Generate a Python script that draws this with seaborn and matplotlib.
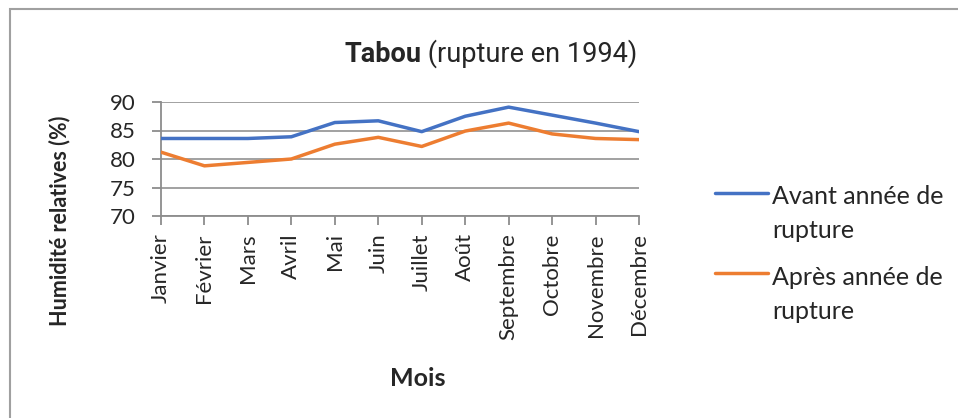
import matplotlib
matplotlib.use('Agg')
import matplotlib.pyplot as plt
from matplotlib.legend_handler import HandlerLine2D
from matplotlib.patches import Rectangle
import seaborn as sns
import pandas as pd

# Données
mois = ['Janvier', 'Février', 'Mars', 'Avril', 'Mai', 'Juin', 'Juillet',
        'Août', 'Septembre', 'Octobre', 'Novembre', 'Décembre']
avant = [83.6, 83.6, 83.6, 83.9, 86.4, 86.7, 84.8, 87.5, 89.1, 87.7, 86.3, 84.8]
apres = [81.2, 78.8, 79.4, 80.0, 82.6, 83.8, 82.2, 84.9, 86.3, 84.4, 83.6, 83.4]
series = ['Avant année de\nrupture', 'Après année de\nrupture']
couleurs = ['#4472C4', '#ED7D31']

df = pd.DataFrame({
    'Mois': mois * 2,
    'pos': list(range(len(mois))) * 2,
    'Humidite': avant + apres,
    'Serie': [series[0]] * len(mois) + [series[1]] * len(mois),
})

sns.set_style('white')
plt.rcParams['font.family'] = ['Lato', 'DejaVu Sans']

fig = plt.figure(figsize=(9.58, 4.18), dpi=100)
ax = fig.add_axes([161 / 958, 1 - 216 / 418, (639 - 161) / 958, (216 - 102) / 418])

sns.lineplot(data=df, x='pos', y='Humidite', hue='Serie', palette=couleurs,
             linewidth=2.5, ax=ax, legend=False, zorder=3)

ax.set_xlim(0, len(mois) - 1)
ax.set_ylim(70, 90)
ax.set_yticks([70, 75, 80, 85, 90])
ax.set_xticks(range(len(mois)))
ax.set_xticklabels(mois, rotation=90)
ax.set_xlabel('')
ax.set_ylabel('')
ax.grid(axis='y', color='#9a9a9a', linewidth=1.3)
ax.grid(axis='x', visible=False)
for s in ['top', 'right']:
    ax.spines[s].set_visible(False)
for s in ['left', 'bottom']:
    ax.spines[s].set_color('#8c8c8c')
    ax.spines[s].set_linewidth(1.3)
ax.tick_params(axis='both', which='major', labelsize=16, direction='out',
               length=6.5, width=1.3, color='#8c8c8c', left=True, bottom=True)
ax.tick_params(axis='y', pad=12)
ax.tick_params(axis='x', pad=6)

# Titre : "Tabou" en gras + reste en normal
titre_fam = ['Roboto', 'DejaVu Sans']
t1 = fig.text(0, 1 - 62 / 418, 'Tabou', fontsize=19.5, fontweight='bold',
              family=titre_fam, va='baseline', ha='left')
t2 = fig.text(0, 1 - 62 / 418, ' (rupture en 1994)', fontsize=19.5,
              family=titre_fam, va='baseline', ha='left')
r = fig.canvas.get_renderer()
w1 = t1.get_window_extent(r).width
w2 = t2.get_window_extent(r).width
x0 = 491 - (w1 + w2) / 2
t1.set_x(x0 / 958)
t2.set_x((x0 + w1) / 958)

fig.text(60 / 958, 1 - 221 / 418, 'Humidité relatives (%)', rotation=90,
         fontsize=15.5, fontweight='bold', ha='center', va='center')
fig.text(418 / 958, 1 - 378 / 418, 'Mois', fontsize=18, fontweight='bold',
         ha='center', va='center')

leg_fs = 18
interligne = 1.58


# poignée de légende alignée sur la première ligne du texte
class PremiereLigne(HandlerLine2D):
    def create_artists(self, legend, orig_handle, xdescent, ydescent, width,
                       height, fontsize, trans):
        arts = super().create_artists(legend, orig_handle, xdescent, ydescent,
                                      width, height, fontsize, trans)
        for a in arts:
            a.set_ydata([y + 15.6 for y in a.get_ydata()])
        return arts


handles = ax.get_lines()[:2]
leg = fig.legend(handles, series, loc='upper left',
                 bbox_to_anchor=(715 / 958, 1 - 185 / 418), frameon=False,
                 fontsize=leg_fs, handlelength=2.12, handletextpad=0.16,
                 labelspacing=0.95, borderpad=0, borderaxespad=0,
                 handler_map={h: PremiereLigne() for h in handles})
for t in leg.get_texts():
    t.set_linespacing(interligne)

# cadre du graphique
fig.patches.append(Rectangle((9.5 / 958, -0.1), 1.2, 1 - 9 / 418 + 0.1,
                             transform=fig.transFigure, fill=False,
                             edgecolor='#a0a0a0', linewidth=1.5))

fig.savefig('out.png', dpi=100)
